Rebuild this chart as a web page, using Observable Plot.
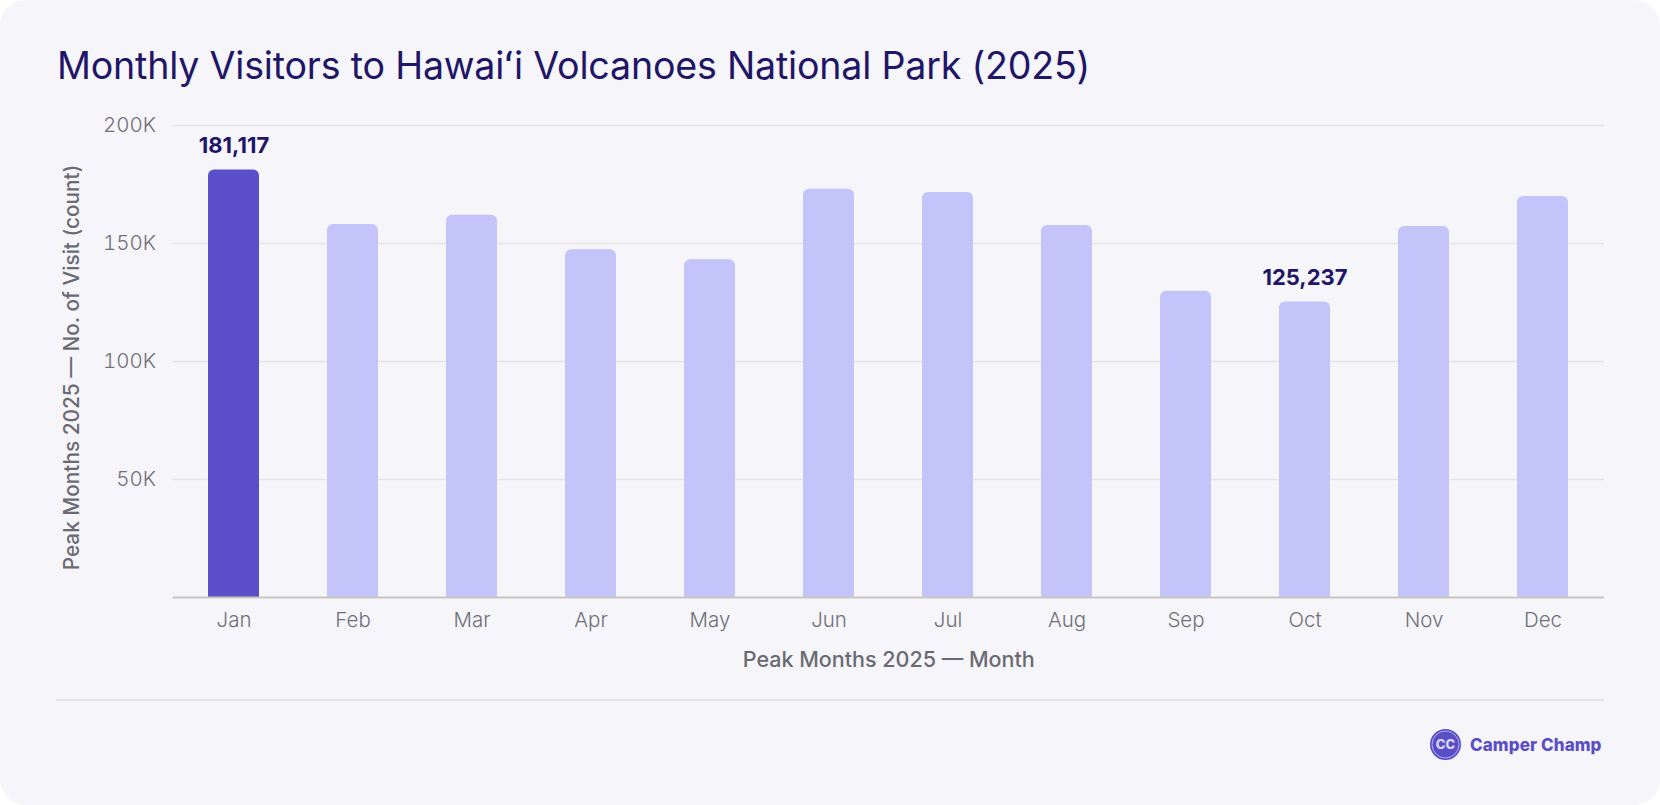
<!DOCTYPE html>
<html>
<head>
<meta charset="utf-8">
<script src="https://cdn.jsdelivr.net/npm/d3@7"></script>
<script src="https://cdn.jsdelivr.net/npm/@observablehq/plot@0.6"></script>
<style>
  html, body { margin: 0; padding: 0; background: #ffffff; }
  #card {
    position: absolute; left: 0; top: 0; width: 1660px; height: 805px;
    background: #f6f5fa; border-radius: 26px; overflow: hidden;
    font-family: Inter, "Noto Sans", sans-serif;
  }
  #title {
    position: absolute; left: 57px; top: 47px; margin: 0;
    font-size: 37.6px; font-weight: 400; color: #1f1667; line-height: 1;
    white-space: nowrap; letter-spacing: -0.2px;
  }
  #chart { position: absolute; left: 0; top: 100px; }
  #sep { position: absolute; left: 56px; top: 699px; width: 1548px; height: 2px; background: #e6e4e8; }
  #logo { position: absolute; left: 1429px; top: 728px; display: flex; align-items: center; gap: 8px; }
  #logo span { font-size: 17px; font-weight: 800; color: #5a4ec7; letter-spacing: 0.1px; }
</style>
</head>
<body>
<div id="card">
  <h1 id="title">Monthly Visitors to Hawaiʻi Volcanoes National Park (2025)</h1>
  <div id="chart"></div>
  <div id="sep"></div>
  <div id="logo">
    <svg width="33" height="33" viewBox="0 0 33 33">
      <circle cx="16.5" cy="16.5" r="15.5" fill="#5a4ec7"/>
      <circle cx="16.5" cy="16.5" r="13.5" fill="none" stroke="#c9c5f3" stroke-width="0.8"/>
      <text x="16.5" y="21" text-anchor="middle" font-family="Inter, sans-serif" font-weight="800" font-size="13" fill="#dcd9fa">CC</text>
    </svg>
    <span>Camper Champ</span>
  </div>
</div>
<script>
const months = ["Jan","Feb","Mar","Apr","May","Jun","Jul","Aug","Sep","Oct","Nov","Dec"];
const visitors = [181117,158000,162000,147300,143100,173000,171600,157600,129800,125237,157200,169900];
const yTicks = [50000,100000,150000,200000];
const yLabel = "Peak Months 2025 — No. of Visit (count)";
const xLabel = "Peak Months 2025 — Month";

const data = months.map((m, i) => ({month: m, value: visitors[i]}));
const maxV = d3.max(visitors), minV = d3.min(visitors);
const labeled = data.filter(d => d.value === maxV || d.value === minV);
const fillOf = d => d.value === maxV ? "#5b4ec9" : "#c3c4fa";

const chart = Plot.plot({
  width: 1660,
  height: 590,
  marginTop: 25,
  marginBottom: 93,
  marginLeft: 172.5,
  marginRight: 56,
  style: {background: "transparent", fontFamily: "Inter, 'Noto Sans', sans-serif", fontSize: "20px", color: "#6e6e76"},
  x: {domain: months, paddingInner: 0.57, paddingOuter: 0.285, label: null},
  y: {domain: [0, 200000], label: null},
  marks: [
    Plot.gridY(yTicks, {stroke: "#e6e4e0", strokeOpacity: 1, strokeWidth: 1.5}),
    Plot.axisY({ticks: yTicks, tickSize: 0, tickPadding: 17, label: null,
      tickFormat: d => d / 1000 + "K", fill: "#707078", fontSize: 20.5, fontWeight: 300}),
    Plot.axisX({tickSize: 0, tickPadding: 15, label: null, fill: "#707078", fontSize: 20.5, fontWeight: 300}),
    Plot.barY(data, {x: "month", y: "value", fill: fillOf, rx: 6}),
    Plot.barY(data, {x: "month", y: d => d.value / 2, fill: fillOf}),
    Plot.ruleY([0], {stroke: "#c9c6c1", strokeWidth: 2}),
    Plot.text(labeled, {x: "month", y: "value", text: d => d3.format(",")(d.value),
      dy: -24, fill: "#1f1667", fontSize: 22, fontWeight: 700, lineAnchor: "middle"}),
    Plot.text([yLabel], {frameAnchor: "left", rotate: -90, dx: -101, dy: 6, text: d => d,
      fill: "#6a6a72", fontSize: 20.8, fontWeight: 500, lineAnchor: "middle", textAnchor: "middle"}),
    Plot.text([xLabel], {frameAnchor: "bottom", dy: 63, text: d => d,
      fill: "#6a6a72", fontSize: 21.5, fontWeight: 500, lineAnchor: "middle", textAnchor: "middle"})
  ]
});
document.getElementById("chart").appendChild(chart);
</script>
</body>
</html>
